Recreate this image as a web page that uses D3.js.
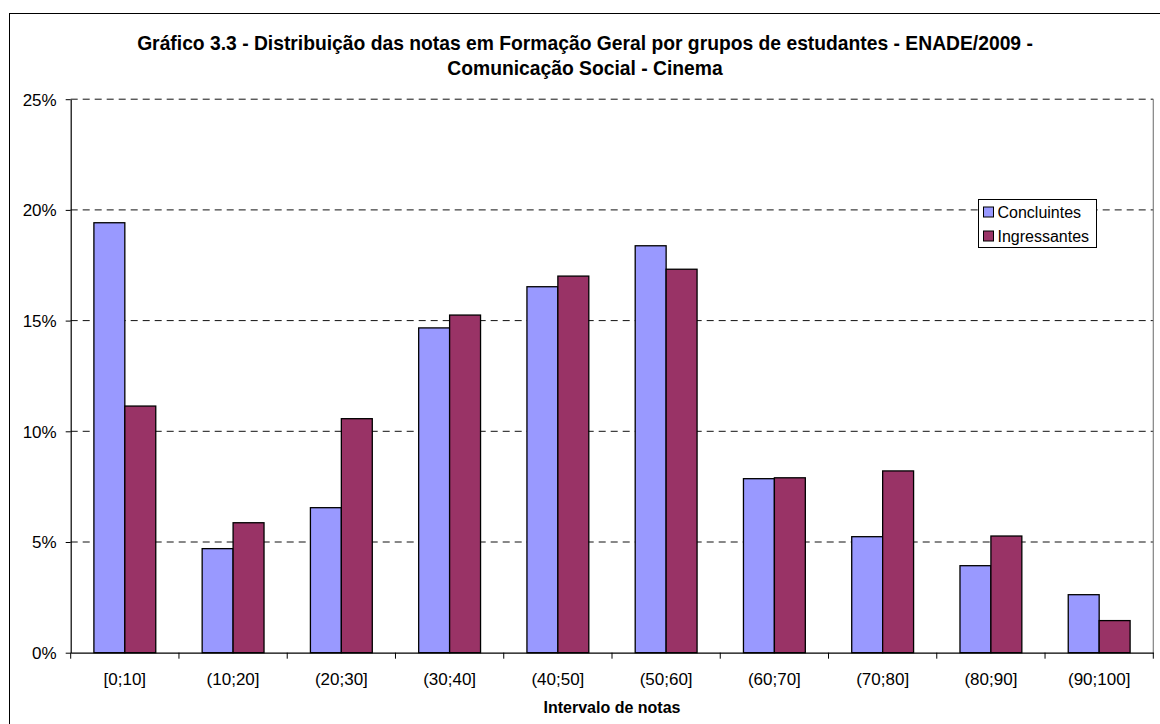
<!DOCTYPE html>
<html>
<head>
<meta charset="utf-8">
<script src="https://cdn.jsdelivr.net/npm/d3@7"></script>
<style>
  html, body { margin: 0; padding: 0; background: #fff; }
  svg { display: block; font-family: Arial, "Liberation Sans", sans-serif; }
</style>
</head>
<body>
<svg id="grafico"></svg>
<script>
const ancho = 1160;
const alto = 724;

// datos
const intervalos = ["[0;10]", "(10;20]", "(20;30]", "(30;40]", "(40;50]", "(50;60]", "(60;70]", "(70;80]", "(80;90]", "(90;100]"];
const series = ["Concluintes", "Ingressantes"];
const concluintes = [19.42, 4.70, 6.55, 14.67, 16.53, 18.38, 7.86, 5.24, 3.93, 2.62];
const ingressantes = [11.14, 5.87, 10.57, 15.25, 17.01, 17.32, 7.90, 8.21, 5.27, 1.45];
const ticksY = [0, 5, 10, 15, 20, 25];
const colores = ["#9999FF", "#993366"];

const titulo1 = "Gráfico 3.3 - Distribuição das notas em Formação Geral por grupos de estudantes - ENADE/2009 -";
const titulo2 = "Comunicação Social - Cinema";
const tituloEjeX = "Intervalo de notas";

const margen = { izq: 70.7, der: 1153.3, arriba: 99.2, abajo: 652.7 };

const svg = d3.select("#grafico").attr("width", ancho).attr("height", alto);

// borde exterior del gráfico
svg.append("rect")
  .attr("x", 9.5).attr("y", 13.5)
  .attr("width", ancho).attr("height", alto)
  .attr("fill", "#fff")
  .attr("stroke", "#000")
  .attr("stroke-width", 1);

svg.append("text")
  .attr("x", 585).attr("y", 50)
  .attr("text-anchor", "middle")
  .attr("font-size", 19.3).attr("font-weight", 700)
  .text(titulo1);

svg.append("text")
  .attr("x", 585).attr("y", 75)
  .attr("text-anchor", "middle")
  .attr("font-size", 19.3).attr("font-weight", 700)
  .text(titulo2);

const x0 = d3.scaleBand()
  .domain(intervalos)
  .range([margen.izq, margen.der])
  .paddingInner(0).paddingOuter(0);

const x1 = d3.scaleBand()
  .domain(series)
  .range([0, x0.bandwidth()])
  .paddingInner(0).paddingOuter(0.75);

const y = d3.scaleLinear()
  .domain([0, 25])
  .range([margen.abajo, margen.arriba]);

// líneas de la cuadrícula
svg.append("g")
  .selectAll("line")
  .data(ticksY.filter(d => d > 0))
  .join("line")
  .attr("x1", margen.izq).attr("x2", margen.der)
  .attr("y1", d => y(d)).attr("y2", d => y(d))
  .attr("stroke", "#111")
  .attr("stroke-width", 1)
  .attr("stroke-dasharray", "7 5");

// borde derecho del área de trazado
svg.append("line")
  .attr("x1", margen.der).attr("x2", margen.der)
  .attr("y1", margen.arriba).attr("y2", margen.abajo)
  .attr("stroke", "#808080").attr("stroke-width", 1.2);

const filas = intervalos.map((d, i) => ({ intervalo: d, valores: [concluintes[i], ingressantes[i]] }));

svg.append("g")
  .selectAll("g")
  .data(filas)
  .join("g")
  .attr("transform", d => `translate(${x0(d.intervalo)},0)`)
  .selectAll("rect")
  .data(d => d.valores.map((v, j) => ({ serie: series[j], valor: v, color: colores[j] })))
  .join("rect")
  .attr("x", d => x1(d.serie))
  .attr("y", d => y(d.valor))
  .attr("width", x1.bandwidth())
  .attr("height", d => y(0) - y(d.valor))
  .attr("fill", d => d.color)
  .attr("stroke", "#000")
  .attr("stroke-width", 1.3);

// eje Y
const ejeY = svg.append("g")
  .attr("transform", `translate(${margen.izq},0)`)
  .call(d3.axisLeft(y).tickValues(ticksY).tickSize(5).tickSizeOuter(0).tickFormat(d => d + "%"));
ejeY.select(".domain").attr("stroke", "#000").attr("stroke-width", 1.2);
ejeY.selectAll(".tick line").attr("stroke", "#000");
ejeY.selectAll(".tick text")
  .attr("font-size", 17).attr("font-family", "Arial, 'Liberation Sans', sans-serif")
  .attr("fill", "#000").attr("x", -14).attr("dy", "0.35em");

// eje X
const ejeX = svg.append("g")
  .attr("transform", `translate(0,${margen.abajo})`)
  .call(d3.axisBottom(x0).tickSize(0).tickSizeOuter(0));
ejeX.select(".domain").attr("stroke", "#000").attr("stroke-width", 1.2);
ejeX.selectAll(".tick text")
  .attr("font-size", 17).attr("font-family", "Arial, 'Liberation Sans', sans-serif")
  .attr("fill", "#000").attr("y", 32).attr("dy", 0);

// marcas entre categorías
svg.append("g")
  .selectAll("line")
  .data(intervalos.concat(["fin"]))
  .join("line")
  .attr("x1", (d, i) => margen.izq + i * x0.step())
  .attr("x2", (d, i) => margen.izq + i * x0.step())
  .attr("y1", margen.abajo).attr("y2", margen.abajo + 6)
  .attr("stroke", "#000");

svg.append("text")
  .attr("x", (margen.izq + margen.der) / 2).attr("y", 713)
  .attr("text-anchor", "middle")
  .attr("font-size", 16).attr("font-weight", 700)
  .text(tituloEjeX);

// leyenda
const leyenda = svg.append("g").attr("transform", "translate(978.5,199.5)");
leyenda.append("rect")
  .attr("width", 118).attr("height", 48)
  .attr("fill", "#fff").attr("stroke", "#000").attr("stroke-width", 1);

const itemsLeyenda = leyenda.selectAll("g.item")
  .data(series)
  .join("g")
  .attr("class", "item")
  .attr("transform", (d, i) => `translate(5,${7.5 + i * 24})`);

itemsLeyenda.append("rect")
  .attr("width", 10).attr("height", 10)
  .attr("fill", (d, i) => colores[i])
  .attr("stroke", "#000").attr("stroke-width", 1);

itemsLeyenda.append("text")
  .attr("x", 14).attr("y", 10.5)
  .attr("font-size", 16)
  .text(d => d);
</script>
</body>
</html>
